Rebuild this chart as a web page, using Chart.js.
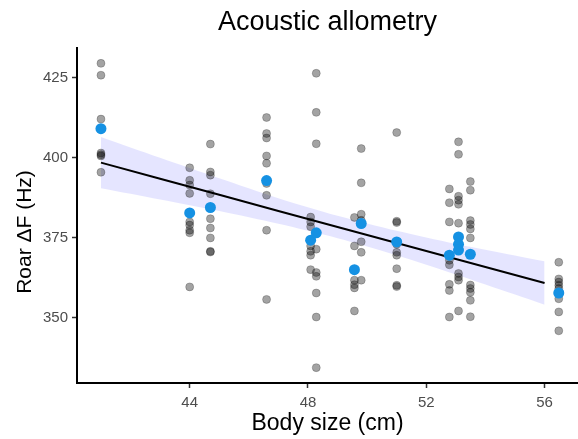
<!DOCTYPE html>
<html>
<head>
<meta charset="utf-8">
<script src="https://cdn.jsdelivr.net/npm/chart.js@4"></script>
<style>
  html, body { margin: 0; padding: 0; background: #fff; overflow: hidden; }
  canvas { display: block; }
</style>
</head>
<body>
<canvas id="allometry" width="578" height="439"></canvas>
<script>
// body size of each column of recordings (cm)
var bodySize = [41.0, 44.0, 44.7, 46.6, 48.09, 48.28, 49.57, 49.8, 51.0, 52.78, 53.09, 53.49, 56.48];
// roar formant spacing of each recording, one list per column (Hz)
var roarDF = [
  [429.5, 425.8, 412.1, 401.5, 401.0, 400.6, 395.5],
  [396.9, 393.0, 391.5, 388.9, 380.0, 379.0, 377.4, 376.6, 359.7],
  [404.3, 395.6, 394.6, 388.8, 381.0, 378.1, 375.0, 370.8, 370.6],
  [412.6, 407.6, 406.2, 400.6, 398.3, 392.0, 388.3, 377.4, 355.8],
  [381.5, 380.0, 378.5, 372.5, 370.8, 369.6, 365.1],
  [426.4, 414.2, 404.4, 371.5, 364.2, 363.0, 357.8, 350.3, 334.5],
  [381.4, 372.5, 361.8, 360.4, 359.4, 352.2],
  [402.9, 392.2, 382.4, 380.5, 373.8, 370.5, 361.8],
  [407.9, 380.2, 379.8, 373.0, 370.5, 369.6, 365.4, 360.2, 359.8],
  [390.3, 386.0, 380.0, 368.0, 366.6, 360.5, 358.6, 350.3],
  [405.0, 401.1, 388.0, 386.8, 385.5, 379.6, 363.9, 362.8, 361.8, 352.2],
  [392.6, 389.9, 380.4, 379.2, 377.8, 375.0, 360.3, 359.2, 358.0, 355.5, 350.4],
  [367.4, 362.2, 361.2, 360.2, 359.2, 356.0, 351.9, 346.0]
];

// individual means (blue)
var meanSize = [41.0, 44.0, 44.7, 46.6, 48.09, 48.28, 49.57, 49.8, 51.0, 52.78, 53.09, 53.09, 53.09, 53.49, 56.48];
var meanDF = [409.1, 382.8, 384.5, 392.9, 374.3, 376.6, 365.1, 379.5, 373.75, 369.6, 375.3, 373.0, 371.2, 369.9, 357.8];

// fitted line and confidence band
var fitSize = [41, 43, 45, 47, 49, 51, 53, 55, 56];
var fitDF = [398.5, 393.5, 388.5, 383.4, 378.4, 373.4, 368.4, 363.4, 360.9];
var fitLow = [390.5, 387.0, 383.4, 379.4, 374.9, 369.6, 363.6, 357.3, 354.1];
var fitHigh = [406.5, 400.0, 393.6, 387.4, 381.9, 377.2, 373.1, 369.5, 367.7];

var xTicks = [44, 48, 52, 56];
var yTicks = [350, 375, 400, 425];

var rawPts = [];
bodySize.forEach(function (s, i) {
  roarDF[i].forEach(function (v) { rawPts.push({x: s, y: v}); });
});
var meanPts = meanSize.map(function (s, i) { return {x: s, y: meanDF[i]}; });
function pts(ys) { return fitSize.map(function (s, i) { return {x: s, y: ys[i]}; }); }

var FONT = "'Liberation Sans', Arial, sans-serif";

// y axis title, drawn by hand so it can sit where the original has it
var yTitle = {
  id: "yTitle",
  afterDraw: function (chart) {
    var ctx = chart.ctx;
    ctx.save();
    ctx.translate(25, 232);
    ctx.rotate(-Math.PI / 2);
    ctx.fillStyle = "#000";
    ctx.font = "21px " + FONT;
    ctx.textAlign = "center";
    ctx.textBaseline = "middle";
    ctx.fillText("Roar ΔF (Hz)", 0, 0);
    ctx.restore();
  }
};

new Chart("allometry", {
  type: "scatter",
  data: {
    datasets: [{
      label: "means",
      data: meanPts,
      pointRadius: 5.5,
      pointBackgroundColor: "#1591e3",
      pointBorderColor: "#1591e3",
      pointBorderWidth: 0,
      order: 0
    }, {
      label: "fit",
      data: pts(fitDF),
      showLine: true,
      borderColor: "#000",
      borderWidth: 2,
      pointRadius: 0,
      order: 1
    }, {
      label: "recordings",
      data: rawPts,
      pointRadius: 4,
      pointBackgroundColor: "rgba(0,0,0,0.36)",
      pointBorderColor: "rgba(0,0,0,0.22)",
      pointBorderWidth: 1,
      order: 2
    }, {
      label: "low",
      data: pts(fitLow),
      showLine: true,
      borderWidth: 0,
      borderColor: "rgba(0,0,0,0)",
      pointRadius: 0,
      tension: 0.3,
      order: 3
    }, {
      label: "high",
      data: pts(fitHigh),
      showLine: true,
      borderWidth: 0,
      borderColor: "rgba(0,0,0,0)",
      backgroundColor: "rgba(0,0,255,0.1)",
      fill: "-1",
      pointRadius: 0,
      tension: 0.3,
      order: 4
    }]
  },
  options: {
    responsive: false,
    animation: false,
    layout: {padding: 0, autoPadding: false},
    plugins: {
      legend: {display: false},
      tooltip: {enabled: false},
      title: {
        display: true,
        text: "Acoustic allometry",
        fullSize: false,
        color: "#000",
        font: {family: FONT, size: 27, weight: "normal"},
        padding: {top: 6, bottom: 9.6}
      }
    },
    scales: {
      x: {
        type: "linear",
        min: 40.19,
        max: 57.13,
        afterBuildTicks: function (s) { s.ticks = xTicks.map(function (v) { return {value: v}; }); },
        afterFit: function (s) { s.height = 56; s.paddingLeft = 0; s.paddingRight = 0; },
        border: {display: true, color: "#000", width: 2},
        grid: {drawOnChartArea: false, drawTicks: true, tickLength: 5, tickColor: "#333", tickWidth: 1.5},
        ticks: {color: "#4d4d4d", font: {family: FONT, size: 15}, padding: 6},
        title: {display: true, text: "Body size (cm)", color: "#000", font: {family: FONT, size: 23}, padding: {top: 0, bottom: 2}}
      },
      y: {
        type: "linear",
        min: 329.7,
        max: 434.3,
        afterBuildTicks: function (s) { s.ticks = yTicks.map(function (v) { return {value: v}; }); },
        afterFit: function (s) { s.width = 77; s.paddingTop = 0; s.paddingBottom = 0; },
        border: {display: true, color: "#000", width: 2},
        grid: {drawOnChartArea: false, drawTicks: true, tickLength: 5, tickColor: "#333", tickWidth: 1.5},
        ticks: {color: "#4d4d4d", font: {family: FONT, size: 15}, padding: 4},
        title: {display: false}
      }
    }
  },
  plugins: [yTitle]
});
</script>
</body>
</html>
